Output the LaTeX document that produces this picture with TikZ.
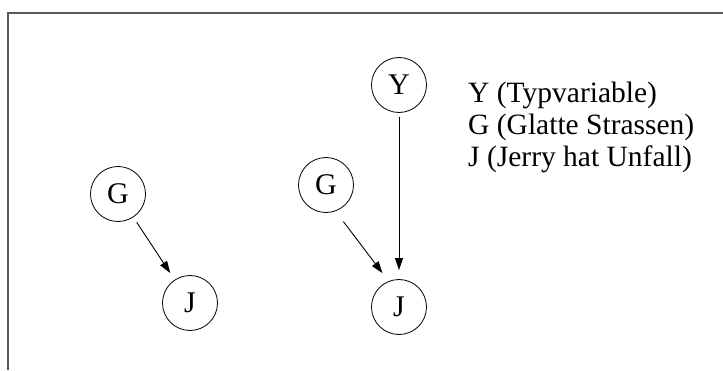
\documentclass[tikz,border=0pt]{standalone}
\usepackage{fontspec}
\setmainfont{Liberation Serif}
\usetikzlibrary{arrows.meta}
\begin{document}
\begin{tikzpicture}[x=1pt,y=1pt,
  var/.style={circle,draw=black,line width=0.8pt,minimum size=55pt,inner sep=0pt,
              font=\fontsize{30}{30}\selectfont},
  edge/.style={draw=black,line width=0.9pt,
               -{Triangle[length=12pt,width=8pt]}},
  legend/.style={anchor=base west,inner sep=0pt,font=\fontsize{29.5}{32}\selectfont},
  frame/.style={draw=black!65,line width=1.6pt}]
\useasboundingbox (0,0) rectangle (723,370);

% open frame: top and left edges only
\draw[frame] (723,357) -- (8,357) -- (8,0);

% left graph
\node[var] (g1) at (118,176) {G};
\node[var] (j1) at (190,67) {J};
\draw[edge,shorten <=6pt,shorten >=8pt] (g1) -- (j1);

% right graph
\node[var] (y2) at (399,285) {Y};
\node[var] (g2) at (326,185) {G};
\node[var] (j2) at (399,63) {J};
\draw[edge,shorten <=4pt,shorten >=9pt] (y2) -- (j2);
\draw[edge,shorten <=13pt,shorten >=10pt] (g2.-70) -- (j2.112);

% legend
\node[legend] (ly) at (468,267) {Y (Typvariable)};
\node[legend] (lg) at (468,235) {G (Glatte Strassen)};
\node[legend] (lj) at (468,203) {J (Jerry hat Unfall)};
\end{tikzpicture}
\end{document}
